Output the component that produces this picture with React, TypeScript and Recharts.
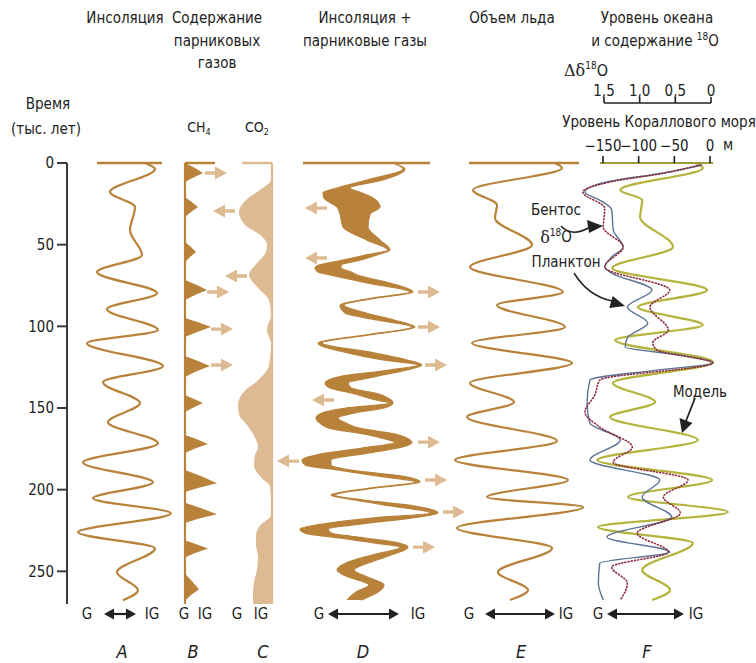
import React from 'react';
import { ComposedChart, Line, Area, Scatter, XAxis, YAxis, ReferenceLine } from 'recharts';

// ---------------- data (time in thousand years) ----------------
const timeTicks = [0, 50, 100, 150, 200, 250];
const seaTicks = [-150, -100, -50, 0];
const d18oTicks = [1.5, 1.0, 0.5, 0];

// A: insolation index  [t, value]
const insolationA: number[][] = [
  [0, 78], [3.7, 88], [17.8, 43], [27, 68], [41, 63], [56.4, 75], [66.8, 30], [79.7, 90],
  [89.5, 40], [102.3, 91], [110.3, 20], [124.4, 96], [134.2, 36], [147, 73], [158.7, 41],
  [171.6, 91], [183.3, 16], [195.5, 86], [205.3, 26], [214.5, 104], [226.1, 11], [235.9, 88],
  [250.6, 50], [261.6, 71], [267.7, 56],
];

// B: CH4 lobes  [t, value]
const ch4B: number[][] = [
  [0, 0], [3, 10], [6.1, 18], [9, 8], [11.6, 0],
  [20.8, 0], [24, 7], [27, 13], [30, 6], [33, 0],
  [48.4, 0], [51.5, 6], [54.5, 11], [57.5, 5], [60.6, 0],
  [71.6, 0], [74.7, 12], [77.7, 22], [80.8, 10], [83.9, 0],
  [94.9, 0], [97.6, 14], [100.4, 26], [103.5, 12], [106.5, 0],
  [118.2, 0], [121.2, 13], [124.3, 25], [127.6, 11], [131, 0],
  [142, 0], [144.5, 9], [147, 18], [149.8, 8], [152.5, 0],
  [166.5, 0], [169.2, 12], [172, 23], [174.8, 10], [177.5, 0],
  [188, 0], [192, 17], [196, 32], [198.8, 14], [201.5, 0],
  [208, 0], [211.5, 17], [215, 32], [217.7, 14], [220.4, 0],
  [231, 0], [233.5, 12], [236, 23], [238.8, 10], [241.5, 0],
  [251.5, 0], [256, 7], [261, 14], [264.5, 6], [268, 0],
];

// C: CO2  [t, value]
const co2C: number[][] = [
  [0, 0], [10.4, 1], [16.5, 12], [22.7, 26], [30, 33], [38, 27], [44, 12], [50, 5], [54.5, 6],
  [60.6, 14], [68.6, 23], [76.5, 14], [84, 3], [93, 1], [102, 5], [111, 1], [124, 3], [133, 14],
  [140, 28], [148, 34], [154, 33], [160.4, 25], [168, 17], [174, 14], [179, 17], [185, 18],
  [193, 10], [198, 2], [206, 1], [215.5, 1], [222, 12], [228, 16], [234, 16], [241, 14],
  [249, 15], [256.6, 18], [264.5, 19], [270, 19],
];

// D: insolation + greenhouse gases band  [t, lower, upper]
const combinedD: number[][] = [
  [0, 93, 93], [3.7, 103, 105], [10.4, 67, 83], [15.3, 37, 50], [18.4, 23, 62], [21.4, 24, 73],
  [26.9, 37, 80], [31.2, 40, 70], [39.2, 43, 68], [47.2, 67, 80], [53.3, 88, 90], [56.3, 66, 77],
  [59.4, 43, 61], [62.5, 19, 41], [64.3, 15, 41], [66.7, 18, 51], [68.6, 31, 57], [73.5, 68, 90],
  [79, 110, 113], [82.7, 72, 76], [87, 40, 44], [91.9, 45, 66], [96.1, 77, 94], [100.4, 112, 115],
  [105.3, 65, 69], [110.2, 18, 22], [116.3, 48, 74], [120.6, 83, 107], [123.7, 118, 122],
  [126.8, 89, 106], [131, 38, 74], [134.7, 25, 48], [137.8, 30, 51], [140.8, 51, 75],
  [145.1, 76, 91], [147, 90, 93], [150, 46, 84], [153.1, 22, 54], [156.2, 16, 38], [159.2, 20, 46],
  [162.3, 29, 59], [166, 65, 95], [169.6, 89, 110], [170.9, 95, 112], [174.5, 62, 98],
  [177.6, 26, 68], [181.9, 2, 31], [184.9, 5, 31], [188, 39, 51], [191.7, 78, 102],
  [195.3, 115, 120], [199, 70, 74], [203.3, 31, 35], [206.4, 56, 64], [210, 91, 115],
  [214.3, 130, 138], [217.4, 72, 111], [220.5, 29, 68], [224.1, 0, 28], [226.6, 5, 31],
  [229.6, 39, 65], [232.7, 75, 99], [235.2, 100, 108], [240, 72, 91], [244.9, 46, 68],
  [249.2, 37, 54], [252.9, 46, 65], [258.4, 69, 84], [262.7, 56, 78], [267.6, 47, 61],
];

// E: ice volume  [t, value]
const iceE: number[][] = [
  [0, 100], [3.1, 107], [16.5, 18], [25.7, 42], [33.7, 40], [50.2, 77], [63.7, 15], [79, 108],
  [87, 42], [100.4, 110], [110.2, 17], [122.5, 117], [134.7, 15], [146.4, 59], [155.5, 12],
  [170.2, 102], [181.9, 0], [194.1, 113], [204.5, 32], [210.7, 128], [223.5, 2], [235.8, 97],
  [250.5, 43], [261.5, 73], [267.6, 55],
];

// F: model sea level (m)  [t, m]
const modelF: number[][] = [
  [0, -21], [3, -10], [16.5, -126], [22.7, -95], [33, -98], [51.4, -52], [64.3, -137], [77.8, -4],
  [88.2, -101], [99.2, -10], [108.4, -133], [121.9, 4], [134.7, -136], [146.4, -77], [155.5, -140],
  [169.6, -17], [181.9, -158], [194.1, 3], [204.5, -115], [213.7, 25], [222.9, -157], [232.7, -24],
  [249.2, -95], [261.5, -56], [267.6, -81],
];

// F: benthic delta-18O  [t, d18O]
const benthicF: number[][] = [
  [1.2, 0.11], [6.1, 0.66], [11.6, 1.46], [17.8, 1.77], [22.7, 1.56], [28.8, 1.39], [41, 1.37],
  [51.4, 1.23], [57.5, 1.39], [63.7, 1.49], [67.4, 1.39], [77.8, 0.82], [88.2, 1.17], [98, 0.88],
  [107, 1.17], [112.7, 1.2], [117.6, 0.42], [122.5, -0.04], [126.8, 0.75], [132.9, 1.7],
  [147, 1.74], [159.2, 1.7], [169.6, 1.27], [181.9, 1.7], [194.1, 0.71], [204.5, 0.96],
  [216.8, 0.54], [229, 1.46], [238.2, 0.57], [245, 1.56], [257.2, 1.58], [267.6, 1.51],
];

// F: planktonic delta-18O  [t, d18O]
const planktonF: number[][] = [
  [1.2, 0.14], [6.1, 0.64], [11.6, 1.41], [17.8, 1.8], [27.6, 1.49], [39.2, 1.51], [51.4, 1.23],
  [63.7, 1.49], [77.8, 0.57], [88.2, 0.85], [102.3, 0.59], [110, 0.81], [114.5, 0.75],
  [122.5, -0.04], [132.9, 1.56], [142, 1.63], [152.5, 1.77], [161.7, 1.56], [174, 1.1],
  [183.1, 1.37], [194.1, 0.31], [204.5, 0.66], [214.3, 0.42], [226.6, 1.03], [238.2, 0.59],
  [247.4, 1.39], [257.2, 1.17], [267.6, 1.27],
];

// forcing arrows  [t, value, direction]
const arrowsCH4: number[][] = [[6.1, 31, 1], [79, 33, 1], [101.7, 37, 1], [123.7, 37, 1]];
const arrowsCO2: number[][] = [[29.4, 48, -1], [69.2, 36, -1]];
const arrowsD: number[][] = [
  [27.6, 16, -1], [58.2, 16, -1], [79, 129, 1], [100.4, 129, 1], [123.7, 136, 1], [145.1, 23, -1],
  [170.9, 129, 1], [182.5, -12, -1], [194.1, 136, 1], [213.7, 154, 1], [235.2, 124, 1],
];

// ---------------- styling / layout ----------------
const BROWN = '#B9823A';
const TAN = '#DDBA91';
const OLIVE = '#B4B33C';
const BLUE = '#5B7395';
const RED = '#8E2A3C';
const INK = '#222';
const AXIS = '#3a3a3a';
const FONT = "'Liberation Sans Narrow','Arial Narrow','DejaVu Sans Condensed','Roboto Condensed',Roboto,Arial,sans-serif";
const SERIF = "'DejaVu Serif','Liberation Serif',serif";

const CW = 756;
const CH = 663;
const AXIS_X = 67;

function domainFor(origin: number, pxPerUnit: number, rev = false): [number, number] {
  const a = (AXIS_X - origin) / pxPerUnit;
  const b = (CW - origin) / pxPerUnit;
  return rev ? [-b, -a] : [a, b];
}

const toTV = (rows: number[][]) => rows.map(([t, v]) => ({ t, v }));
const toBand = (rows: number[][]) => rows.map(([t, lo, hi]) => ({ t, r: [lo, hi] }));
const toArrows = (rows: number[][]) => rows.map(([t, x, dir]) => ({ t, x, dir }));

const ArrowShape = (props: any) => {
  const { cx, cy, payload } = props;
  if (cx == null || cy == null) return null;
  const d = payload.dir;
  const tail = cx - d * 11;
  const neck = cx - d * 1;
  const tip = cx + d * 11;
  const pts = [
    [tail, cy - 1.7], [neck, cy - 1.7], [neck, cy - 6.5], [tip, cy],
    [neck, cy + 6.5], [neck, cy + 1.7], [tail, cy + 1.7],
  ];
  return <polygon points={pts.map((p) => p.join(',')).join(' ')} fill={TAN} />;
};

const Txt = ({ x, y, children, size = 15, anchor = 'middle', italic = false, family = FONT }: any) => (
  <text x={x} y={y} textAnchor={anchor} dominantBaseline="central" fontSize={size}
    fontFamily={family} fontStyle={italic ? 'italic' : 'normal'} fill={INK}>{children}</text>
);

const DoubleArrow = ({ x1, x2, y }: any) => {
  const h = 10;
  const w = 5.5;
  return (
    <g>
      <line x1={x1 + h - 1} x2={x2 - h + 1} y1={y} y2={y} stroke={INK} strokeWidth={2.2} />
      <polygon points={`${x1},${y} ${x1 + h},${y - w} ${x1 + h},${y + w}`} fill={INK} />
      <polygon points={`${x2},${y} ${x2 - h},${y - w} ${x2 - h},${y + w}`} fill={INK} />
    </g>
  );
};

export default function App() {
  const lineProps = { dot: false, activeDot: false, isAnimationActive: false, type: 'monotone' as const };
  return (
    <div style={{ position: 'absolute', left: 0, top: 0, width: CW, height: CH, background: '#fff' }}>
      <div style={{ position: 'absolute', left: 0, top: 0 }}>
        <ComposedChart width={CW} height={CH} layout="vertical" margin={{ top: 163, right: 0, bottom: 59, left: 0 }}>
          <YAxis type="number" dataKey="t" domain={[0, 270]} allowDataOverflow ticks={timeTicks} interval={0}
            width={AXIS_X} tickSize={10} tickMargin={3}
            axisLine={{ stroke: AXIS, strokeWidth: 2 }} tickLine={{ stroke: AXIS, strokeWidth: 2 }}
            tick={{ fill: INK, fontSize: 15, fontFamily: FONT }} />
          <XAxis xAxisId="a" type="number" domain={domainFor(67, 1)} allowDataOverflow hide />
          <XAxis xAxisId="b" type="number" domain={domainFor(185, 1)} allowDataOverflow hide />
          <XAxis xAxisId="c" type="number" domain={domainFor(272, 1, true)} reversed allowDataOverflow hide />
          <XAxis xAxisId="d" type="number" domain={domainFor(300, 1)} allowDataOverflow hide />
          <XAxis xAxisId="e" type="number" domain={domainFor(455, 1)} allowDataOverflow hide />
          <XAxis xAxisId="sea" type="number" domain={domainFor(710, 107 / 150)} allowDataOverflow hide />
          <XAxis xAxisId="iso" type="number" domain={domainFor(710, 106 / 1.5, true)} reversed allowDataOverflow hide />

          {/* C: CO2 */}
          <Area xAxisId="c" data={toTV(co2C)} dataKey="v" type="monotone" baseValue={0}
            fill={TAN} fillOpacity={1} stroke="none" isAnimationActive={false} />
          <ReferenceLine xAxisId="c" x={0} stroke={TAN} strokeWidth={2.2} />
          <ReferenceLine xAxisId="c" segment={[{ x: 30, y: 0 }, { x: 0, y: 0 }]} stroke={TAN} strokeWidth={2.5} />

          {/* B: CH4 */}
          <Area xAxisId="b" data={toTV(ch4B)} dataKey="v" type="linear" baseValue={0}
            fill={BROWN} fillOpacity={1} stroke="none" isAnimationActive={false} />
          <ReferenceLine xAxisId="b" x={0} stroke={BROWN} strokeWidth={2.2} />
          <ReferenceLine xAxisId="b" segment={[{ x: 0, y: 0 }, { x: 30, y: 0 }]} stroke={BROWN} strokeWidth={2.5} />

          {/* D: combined band */}
          <Area xAxisId="d" data={toBand(combinedD)} dataKey="r" type="monotone"
            fill={BROWN} fillOpacity={1} stroke={BROWN} strokeWidth={1.2} isAnimationActive={false} />
          <ReferenceLine xAxisId="d" segment={[{ x: 3, y: 0 }, { x: 130, y: 0 }]} stroke={BROWN} strokeWidth={2.5} />

          {/* A: insolation */}
          <Line xAxisId="a" data={toTV(insolationA)} dataKey="v" stroke={BROWN} strokeWidth={2.2} {...lineProps} />
          <ReferenceLine xAxisId="a" segment={[{ x: 30, y: 0 }, { x: 95, y: 0 }]} stroke={BROWN} strokeWidth={2.5} />

          {/* E: ice volume */}
          <Line xAxisId="e" data={toTV(iceE)} dataKey="v" stroke={BROWN} strokeWidth={2.2} {...lineProps} />
          <ReferenceLine xAxisId="e" segment={[{ x: 14, y: 0 }, { x: 124, y: 0 }]} stroke={BROWN} strokeWidth={2.5} />

          {/* F */}
          <Line xAxisId="sea" data={toTV(modelF)} dataKey="v" stroke={OLIVE} strokeWidth={2.2} {...lineProps} />
          <Line xAxisId="iso" data={toTV(benthicF)} dataKey="v" stroke={BLUE} strokeWidth={1.4} {...lineProps} />
          <Line xAxisId="iso" data={toTV(planktonF)} dataKey="v" stroke={RED} strokeWidth={1.6}
            strokeDasharray="1 2.2" strokeLinecap="round" {...lineProps} />

          {/* forcing arrows */}
          <Scatter xAxisId="b" data={toArrows(arrowsCH4)} dataKey="x" shape={ArrowShape} isAnimationActive={false} />
          <Scatter xAxisId="c" data={toArrows(arrowsCO2)} dataKey="x" shape={ArrowShape} isAnimationActive={false} />
          <Scatter xAxisId="d" data={toArrows(arrowsD)} dataKey="x" shape={ArrowShape} isAnimationActive={false} />
        </ComposedChart>
      </div>

      {/* sea level scale */}
      <div style={{ position: 'absolute', left: 0, top: 0 }}>
        <ComposedChart width={CW} height={200} layout="vertical" data={[{ t: 0 }, { t: 1 }]}
          margin={{ top: 123, left: 600, right: 43, bottom: 0 }}>
          <YAxis type="number" dataKey="t" domain={[0, 1]} hide />
          <XAxis type="number" orientation="top" domain={[-150, 0]} allowDataOverflow ticks={seaTicks} interval={0}
            padding={{ left: 3, right: 3 }} height={40} tickSize={7} tickMargin={5}
            tickFormatter={(v: number) => (v === 0 ? '0' : '\u2212' + Math.abs(v))}
            axisLine={{ stroke: '#9E9B3A', strokeWidth: 2.2 }} tickLine={{ stroke: INK, strokeWidth: 1.6 }}
            tick={{ fill: INK, fontSize: 15, fontFamily: FONT }} />
        </ComposedChart>
      </div>

      {/* delta 18O scale */}
      <div style={{ position: 'absolute', left: 0, top: 0 }}>
        <ComposedChart width={CW} height={140} layout="vertical" data={[{ t: 0 }, { t: 1 }]}
          margin={{ top: 73, left: 604, right: 45, bottom: 0 }}>
          <YAxis type="number" dataKey="t" domain={[0, 1]} hide />
          <XAxis type="number" orientation="top" domain={[0, 1.5]} reversed allowDataOverflow ticks={d18oTicks} interval={0}
            height={30} tickSize={6} tickMargin={1}
            tickFormatter={(v: number) => (v === 0 ? '0' : v.toFixed(1).replace('.', ','))}
            axisLine={{ stroke: INK, strokeWidth: 1.6 }} tickLine={{ stroke: INK, strokeWidth: 1.6 }}
            tick={{ fill: INK, fontSize: 15, fontFamily: FONT }} />
        </ComposedChart>
      </div>

      {/* text and annotations */}
      <svg width={CW} height={CH} style={{ position: 'absolute', left: 0, top: 0, pointerEvents: 'none' }}>
        <Txt x={125} y={18}>Инсоляция</Txt>
        <Txt x={217} y={18}>Содержание</Txt>
        <Txt x={217} y={41}>парниковых</Txt>
        <Txt x={217} y={63}>газов</Txt>
        <Txt x={365} y={18}>Инсоляция +</Txt>
        <Txt x={365} y={41}>парниковые газы</Txt>
        <Txt x={512} y={18}>Объем льда</Txt>
        <Txt x={657} y={18}>Уровень океана</Txt>
        <Txt x={655} y={41}>и содержание <tspan fontSize={10} dy={-5}>18</tspan><tspan dy={5}>O</tspan></Txt>
        <Txt x={48} y={104}>Время</Txt>
        <Txt x={46} y={129}>(тыс. лет)</Txt>
        <Txt x={199} y={127} size={14}>CH<tspan fontSize={9} dy={5}>4</tspan></Txt>
        <Txt x={257} y={127} size={14}>CO<tspan fontSize={9} dy={5}>2</tspan></Txt>
        <text x={586} y={70} textAnchor="middle" dominantBaseline="central" fill={INK}>
          <tspan fontFamily={SERIF} fontSize={16}>Δδ</tspan>
          <tspan fontFamily={FONT} fontSize={10} dy={-5}>18</tspan>
          <tspan fontFamily={FONT} fontSize={16} dy={5}>O</tspan>
        </text>
        <Txt x={659} y={122}>Уровень Кораллового моря</Txt>
        <Txt x={728} y={145}>м</Txt>

        <Txt x={556} y={210}>Бентос</Txt>
        <text x={556} y={237} textAnchor="middle" dominantBaseline="central" fill={INK}>
          <tspan fontFamily={SERIF} fontSize={16}>δ</tspan>
          <tspan fontFamily={FONT} fontSize={10} dy={-5}>18</tspan>
          <tspan fontFamily={FONT} fontSize={15} dy={5}>O</tspan>
        </text>
        <Txt x={566} y={262}>Планктон</Txt>
        <Txt x={700} y={392}>Модель</Txt>

        {/* annotation arrows */}
        <path d="M 561 226 Q 572 238 590 227" fill="none" stroke={INK} strokeWidth={1.5} />
        <polygon points="603,226 587,220 589,233" fill={INK} />
        <path d="M 574 273 Q 588 296 612 301" fill="none" stroke={INK} strokeWidth={1.5} />
        <polygon points="625,306 612.7,296 609.3,308" fill={INK} />
        <path d="M 695 398 L 686 421" fill="none" stroke={INK} strokeWidth={1.8} />
        <polygon points="682,433 679.5,418 692.5,423" fill={INK} />

        {/* G / IG scales */}
        <Txt x={87} y={614}>G</Txt>
        <DoubleArrow x1={104} x2={136} y={614} />
        <Txt x={152} y={614}>IG</Txt>
        <Txt x={184} y={614}>G</Txt>
        <Txt x={205} y={614}>IG</Txt>
        <Txt x={237} y={614}>G</Txt>
        <Txt x={261} y={614}>IG</Txt>
        <Txt x={319} y={614}>G</Txt>
        <DoubleArrow x1={328} x2={399} y={614} />
        <Txt x={418} y={614}>IG</Txt>
        <Txt x={469} y={614}>G</Txt>
        <DoubleArrow x1={485} x2={555} y={614} />
        <Txt x={566} y={614}>IG</Txt>
        <Txt x={598} y={614}>G</Txt>
        <DoubleArrow x1={607} x2={684} y={614} />
        <Txt x={696} y={614}>IG</Txt>

        <Txt x={122} y={651} size={18} italic>A</Txt>
        <Txt x={193} y={651} size={18} italic>B</Txt>
        <Txt x={263} y={651} size={18} italic>C</Txt>
        <Txt x={363} y={651} size={18} italic>D</Txt>
        <Txt x={521} y={651} size={18} italic>E</Txt>
        <Txt x={647} y={651} size={18} italic>F</Txt>
      </svg>
    </div>
  );
}
